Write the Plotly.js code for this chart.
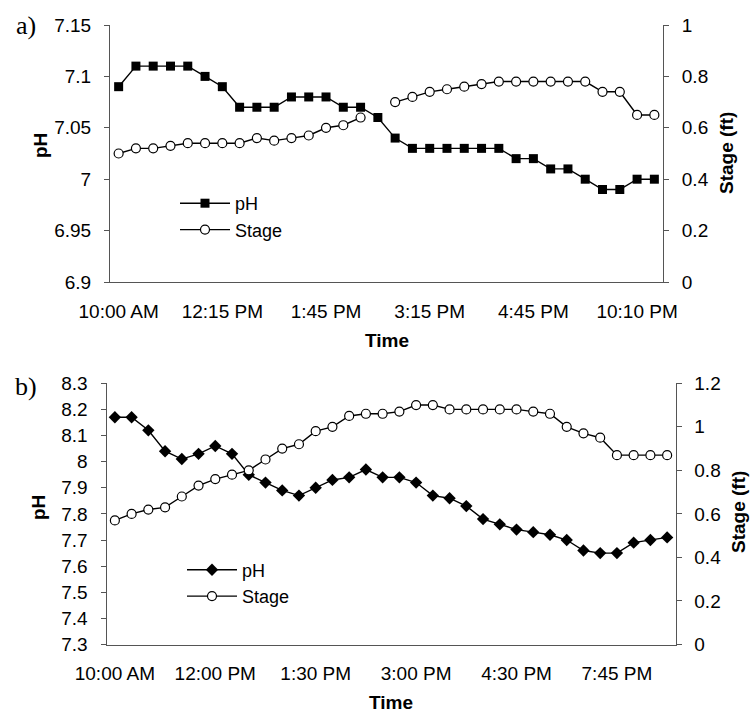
<!DOCTYPE html>
<html><head><meta charset="utf-8">
<script src="https://cdn.plot.ly/plotly-3.0.1.min.js"></script>
<style>html,body{margin:0;padding:0;background:#fff}#chart{width:755px;height:716px}</style>
</head><body><div id="chart"></div>
<script>
// ---- Panel a) ----
const phA = [7.09,7.11,7.11,7.11,7.11,7.10,7.09,7.07,7.07,7.07,7.08,7.08,7.08,7.07,7.07,7.06,7.04,7.03,7.03,7.03,7.03,7.03,7.03,7.02,7.02,7.01,7.01,7.00,6.99,6.99,7.00,7.00];
const stageA = [0.50,0.52,0.52,0.53,0.54,0.54,0.54,0.54,0.56,0.55,0.56,0.57,0.60,0.61,0.64,null,0.70,0.72,0.74,0.75,0.76,0.77,0.78,0.78,0.78,0.78,0.78,0.78,0.74,0.74,0.65,0.65];
const tickLabelsA = ['10:00 AM','12:15 PM','1:45 PM','3:15 PM','4:45 PM','10:10 PM'];
const tickIndexA = [0,6,12,18,24,30];

// ---- Panel b) ----
const phB = [8.17,8.17,8.12,8.04,8.01,8.03,8.06,8.03,7.95,7.92,7.89,7.87,7.90,7.93,7.94,7.97,7.94,7.94,7.92,7.87,7.86,7.83,7.78,7.76,7.74,7.73,7.72,7.70,7.66,7.65,7.65,7.69,7.70,7.71];
const stageB = [0.57,0.60,0.62,0.63,0.68,0.73,0.76,0.78,0.80,0.85,0.90,0.92,0.98,1.00,1.05,1.06,1.06,1.07,1.10,1.10,1.08,1.08,1.08,1.08,1.08,1.07,1.06,1.00,0.97,0.95,0.87,0.87,0.87,0.87];
const tickLabelsB = ['10:00 AM','12:00 PM','1:30 PM','3:00 PM','4:30 PM','7:45 PM'];
const tickIndexB = [0,6,12,18,24,30];

const W = 755, H = 716;
const FONT = 'Liberation Sans, Arial, sans-serif';
const AX = '#555555';
const idx = arr => arr.map((_, i) => i);
const px = v => v / W;
const py = v => 1 - v / H;

const domA = {x:[px(110), px(663)], y:[py(282), py(25)]};
const domB = {x:[px(106.5), px(675.5)], y:[py(644.5), py(383.3)]};

const lineStyle = {color:'#000', width:1.4};
const circ = {symbol:'circle', size:9, color:'#fff', line:{color:'#000', width:1.2}};
const traces = [
  {x: idx(phA), y: phA, name:'pH', mode:'lines+markers', xaxis:'x', yaxis:'y', legend:'legend',
   line: lineStyle, marker:{symbol:'square', size:9, color:'#000'}},
  {x: idx(stageA), y: stageA, name:'Stage', mode:'lines+markers', xaxis:'x', yaxis:'y2', legend:'legend',
   connectgaps:false, line: lineStyle, marker: circ},
  {x: idx(phB), y: phB, name:'pH', mode:'lines+markers', xaxis:'x2', yaxis:'y3', legend:'legend2',
   line: lineStyle, marker:{symbol:'diamond', size:9.5, color:'#000'}},
  {x: idx(stageB), y: stageB, name:'Stage', mode:'lines+markers', xaxis:'x2', yaxis:'y4', legend:'legend2',
   line: lineStyle, marker: circ}
];

const tf = {family: FONT, size: 19, color:'#000'};
function catAxis(dom, n, idxs, labels, anchor) {
  return {domain: dom, range:[-0.5, n - 0.5], anchor: anchor, tickmode:'array', tickvals: idxs, ticktext: labels,
    ticks:'', showline:true, linecolor: AX, linewidth:1, showgrid:false, zeroline:false, tickfont: tf,
    ticklabelstandoff: 12, fixedrange:true};
}
function bndAxis(over, n, idxs, anchor, dir) {
  return {overlaying: over, range:[-0.5, n - 0.5], anchor: anchor, tickmode:'array', tickvals: idxs.map(i => i - 0.5),
    ticks: dir, ticklen:5, tickcolor: AX, tickwidth:1, showticklabels:false, showline:false, showgrid:false, zeroline:false, fixedrange:true};
}
function valAxis(dom, range, dtick, anchor, side, over) {
  const a = {range: range, dtick: dtick, tick0: range[0], anchor: anchor, side: side, ticks:'outside', ticklen:5, tickcolor: AX,
    showline:true, linecolor: AX, linewidth:1, showgrid:false, zeroline:false, tickfont: tf, ticklabelstandoff: 9, fixedrange:true};
  if (over) a.overlaying = over; else a.domain = dom;
  return a;
}
function innerVal(over, range, dtick, anchor, side) {
  return {overlaying: over, range: range, dtick: dtick, tick0: range[0], anchor: anchor, side: side, ticks:'inside', ticklen:5,
    tickcolor: AX, showticklabels:false, showline:false, showgrid:false, zeroline:false, fixedrange:true};
}
const legFont = {family: FONT, size:18, color:'#000'};

const layout = {
  width: W, height: H, margin:{l:0,r:0,t:0,b:0}, paper_bgcolor:'#fff', plot_bgcolor:'rgba(0,0,0,0)',
  font:{family: FONT, color:'#000'}, showlegend:true,
  xaxis: catAxis(domA.x, phA.length, tickIndexA, tickLabelsA, 'y'),
  xaxis3: bndAxis('x', phA.length, tickIndexA, 'y', 'outside'),
  xaxis4: bndAxis('x', phA.length, tickIndexA, 'y', 'inside'),
  yaxis: valAxis(domA.y, [6.9, 7.15], 0.05, 'x', 'left'),
  yaxis2: valAxis(null, [0, 1], 0.2, 'x', 'right', 'y'),
  yaxis5: innerVal('y', [6.9, 7.15], 0.05, 'x', 'left'),
  yaxis6: innerVal('y', [0, 1], 0.2, 'x', 'right'),

  xaxis2: catAxis(domB.x, phB.length, tickIndexB, tickLabelsB, 'y3'),
  xaxis5: bndAxis('x2', phB.length, tickIndexB, 'y3', 'outside'),
  xaxis6: bndAxis('x2', phB.length, tickIndexB, 'y3', 'inside'),
  yaxis3: valAxis(domB.y, [7.3, 8.3], 0.1, 'x2', 'left'),
  yaxis4: valAxis(null, [0, 1.2], 0.2, 'x2', 'right', 'y3'),
  yaxis7: innerVal('y3', [7.3, 8.3], 0.1, 'x2', 'left'),
  yaxis8: innerVal('y3', [0, 1.2], 0.2, 'x2', 'right'),

  legend: {x: px(175), y: py(185), xanchor:'left', yanchor:'top', bgcolor:'rgba(0,0,0,0)', borderwidth:0,
    font: legFont, tracegroupgap:0, itemwidth:50},
  legend2: {x: px(182), y: py(551.5), xanchor:'left', yanchor:'top', bgcolor:'rgba(0,0,0,0)', borderwidth:0,
    font: legFont, tracegroupgap:0, itemwidth:50},

  annotations: [
    {text:'a)', x: px(26), y: py(26), xref:'paper', yref:'paper', showarrow:false, xanchor:'center', yanchor:'middle',
     font:{family:'Liberation Serif, Times New Roman, serif', size:26, color:'#000'}},
    {text:'b)', x: px(26), y: py(386), xref:'paper', yref:'paper', showarrow:false, xanchor:'center', yanchor:'middle',
     font:{family:'Liberation Serif, Times New Roman, serif', size:26, color:'#000'}},
    {text:'<b>pH</b>', x: px(40), y: py(146), xref:'paper', yref:'paper', showarrow:false, textangle:-90, xanchor:'center', yanchor:'middle', font:{family: FONT, size:19}},
    {text:'<b>Stage (ft)</b>', x: px(726), y: py(153), xref:'paper', yref:'paper', showarrow:false, textangle:-90, xanchor:'center', yanchor:'middle', font:{family: FONT, size:19}},
    {text:'<b>Time</b>', x: px(387), y: py(340), xref:'paper', yref:'paper', showarrow:false, xanchor:'center', yanchor:'middle', font:{family: FONT, size:19}},
    {text:'<b>pH</b>', x: px(38), y: py(508), xref:'paper', yref:'paper', showarrow:false, textangle:-90, xanchor:'center', yanchor:'middle', font:{family: FONT, size:19}},
    {text:'<b>Stage (ft)</b>', x: px(738), y: py(512), xref:'paper', yref:'paper', showarrow:false, textangle:-90, xanchor:'center', yanchor:'middle', font:{family: FONT, size:19}},
    {text:'<b>Time</b>', x: px(391), y: py(702), xref:'paper', yref:'paper', showarrow:false, xanchor:'center', yanchor:'middle', font:{family: FONT, size:19}}
  ]
};

Plotly.newPlot('chart', traces, layout, {staticPlot:true, displayModeBar:false});
</script>
</body></html>
